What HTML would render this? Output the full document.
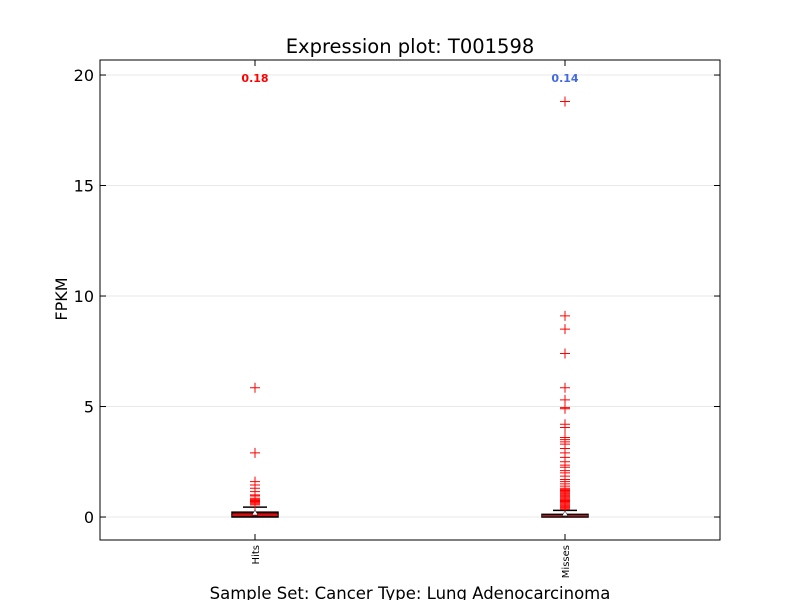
<!DOCTYPE html>
<html><head><meta charset="utf-8"><style>body{margin:0;background:#fff}svg{display:block;font-family:"DejaVu Sans","Liberation Sans",sans-serif}</style></head>
<body>
<svg id="chart" width="800" height="600" viewBox="0 0 800 600" xmlns="http://www.w3.org/2000/svg">
<rect width="800" height="600" fill="#fff"/>
<g id="grid"></g>
<g id="marks"></g>
<rect x="100" y="60" width="620" height="480" fill="none" stroke="#000" stroke-width="1"/>
<g id="axes"></g>
<text x="410" y="53" font-size="19.5" text-anchor="middle">Expression plot: T001598</text>
<text x="67" y="299" font-size="16" text-anchor="middle" transform="rotate(-90 67 299)">FPKM</text>
<text x="410" y="599" font-size="16.5" text-anchor="middle">Sample Set: Cancer Type: Lung Adenocarcinoma</text>
</svg>
<script>
const categories = ["Hits", "Misses"];
const meanLabels = ["0.18", "0.14"];
const labelColors = ["#ff0000", "#4169e1"];
const boxFills = ["#a00000", "#2a1a4a"];
const q1 = [0.0, 0.0];
const medians = [0.09, 0.05];
const q3 = [0.22, 0.12];
const whiskerLow = [0.0, 0.0];
const whiskerHigh = [0.45, 0.3];
const means = [0.18, 0.14];
const outliersHits = [5.85, 2.9, 1.6, 1.45, 1.3, 1.15, 1.0, 0.95, 0.85, 0.8, 0.75, 0.7, 0.65, 0.6, 0.55];
const outliersMisses = [18.8, 9.1, 8.5, 7.4, 5.85, 5.3, 4.95, 4.9, 4.2, 4.05, 3.6, 3.5, 3.4, 3.3, 3.1, 2.9, 2.7, 2.5, 2.35, 2.25, 2.1, 2.0, 1.85, 1.7, 1.6, 1.5, 1.4, 1.3, 1.25, 1.2, 1.15, 1.1, 1.05, 1.0, 0.95, 0.9, 0.85, 0.8, 0.75, 0.7, 0.65, 0.6, 0.55, 0.5, 0.45, 0.4, 0.35];
const yTicks = [0, 5, 10, 15, 20];
const NS = "http://www.w3.org/2000/svg";
const yMin = -1.04, yMax = 20.68;
function y(v){ return 540 - (v - yMin) / (yMax - yMin) * 480; }
function x(i){ return 100 + (i + 0.5) * 620 / categories.length; }
function mk(tag, attrs, parent){ const e=document.createElementNS(NS,tag); for(const k in attrs) e.setAttribute(k,attrs[k]); parent.appendChild(e); return e; }
const grid=document.getElementById('grid'), marks=document.getElementById('marks'), axes=document.getElementById('axes');
yTicks.forEach(t=>{
  const g=mk('line',{x1:100,x2:720,y1:y(t),y2:y(t),stroke:'#e8e8e8','stroke-width':1},grid);
  
  
  mk('line',{x1:100,x2:106,y1:y(t),y2:y(t),stroke:'#000'},axes);
  mk('line',{x1:714,x2:720,y1:y(t),y2:y(t),stroke:'#000'},axes);
  const l=mk('text',{x:94,y:y(t)+6,'font-size':16,'text-anchor':'end'},axes);
  l.textContent=t;
  
  
});
const outs=[outliersHits,outliersMisses];
categories.forEach((c,i)=>{
  const cx=x(i), hw=23;
  mk('line',{x1:cx,x2:cx,y1:540,y2:534,stroke:'#000'},axes);
  mk('line',{x1:cx,x2:cx,y1:60,y2:66,stroke:'#000'},axes);
  const tl=mk('text',{x:cx+4,y:545,'font-size':10,'text-anchor':'end',transform:`rotate(-90 ${cx+4} 545)`},axes);
  tl.textContent=c;
  
  
  const g=mk('g',{},marks);
  
  
  mk('line',{x1:cx,x2:cx,y1:y(q3[i]),y2:y(whiskerHigh[i]),stroke:'#000'},g);
  mk('line',{x1:cx-12,x2:cx+12,y1:y(whiskerHigh[i]),y2:y(whiskerHigh[i]),stroke:'#000','stroke-width':1.5},g);
  mk('rect',{x:cx-hw,y:y(q3[i]),width:2*hw,height:Math.max(2,y(q1[i])-y(q3[i])),fill:boxFills[i],stroke:'#000','stroke-width':1.5},g);
  mk('line',{x1:cx-hw,x2:cx+hw,y1:y(medians[i]),y2:y(medians[i]),stroke:'#ff2020','stroke-width':1},g);
  outs[i].forEach(v=>{
    const p=mk('path',{d:`M${cx-5},${y(v)}h10M${cx},${y(v)-5}v10`,stroke:'#ff0000','stroke-width':1},g);
    
    
  });
  const m=mk('path',{d:`M${cx},${y(means[i])-3}l3,5h-6z`,fill:'#fff',stroke:'#000','stroke-width':0.5},g);
  
  
  const ml=mk('text',{x:cx,y:82,'font-size':11,'font-weight':'bold','text-anchor':'middle',fill:labelColors[i]},marks);
  ml.textContent=meanLabels[i];
  
  
});
</script>
</body></html>
